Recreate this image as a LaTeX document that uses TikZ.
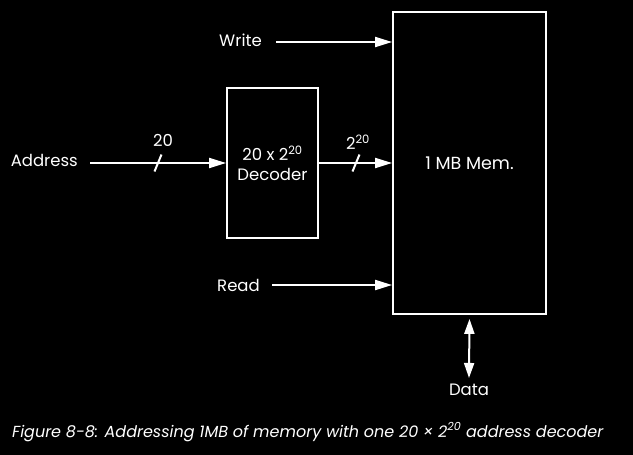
\documentclass[tikz,border=0pt]{standalone}
\usepackage{fontspec}
\setmainfont{Poppins}
\usetikzlibrary{calc}
\usetikzlibrary{arrows.meta}
\tikzstyle{box} = [
    rectangle,
    align=center,
    draw=white,
    line width=1.8pt,
    text=white,
    inner sep=0pt,
]
\tikzstyle{lbl} = [text=white, font=\fontsize{16.5}{18}\selectfont, inner sep=0pt]
\tikzstyle{arrow} = [color=white, line width=2pt, -{Triangle[length=17pt,width=10pt]}]
\tikzstyle{darrow} = [arrow, {Triangle[length=15pt,width=10pt]}-{Triangle[length=15pt,width=10pt]}]
\tikzstyle{bus} = [draw=white, line width=2pt]

\begin{document}
\begin{tikzpicture}[x=1pt, y=-1pt]
    \fill[black] (0,0) rectangle (633,455);
    \useasboundingbox (0,0) rectangle (633,455);

    \node (dec) [box, minimum width=91pt, minimum height=150pt, font=\fontsize{16.5}{20}\selectfont] at (272.5,163) {20 x 2\textsuperscript{20}\\Decoder};
    \node (mem) [box, minimum width=153pt, minimum height=302pt, font=\fontsize{17.5}{18}\selectfont] at (469.5,163) {1 MB Mem.};

    \node (addr) [lbl, anchor=east] at (78,160) {Address};
    \node (wr) [lbl, anchor=east] at (262,40) {Write};
    \node (rd) [lbl, anchor=east] at (260,285) {Read};
    \node (data) [lbl] at (469,390) {Data};
    \node (w20) [lbl] at (163,140) {20};
    \node (w220) [lbl] at (358,142) {2\textsuperscript{20}};

    \coordinate (ain) at ($(addr.east)+(12,3)$);
    \coordinate (win) at ($(wr.east)+(14,2)$);
    \coordinate (rin) at ($(rd.east)+(12,0)$);

    % bus lines
    \path
        (ain) edge [arrow] (dec.west)
        (dec.east) edge [arrow] (mem.west)
        (win) edge [arrow] (win-|mem.west)
        (rin) edge [arrow] (rin-|mem.west);
    \path
        ($(mem.south)+(0,4)$) edge [darrow] ($(data.north)+(0,-6)$);

    % width marks
    \draw [bus] (154.5,171.5) -- (161.5,154.5);
    \draw [bus] (352.5,171.5) -- (359.5,154.5);

    \node (cap) [text=white, font=\itshape\fontsize{16}{18}\selectfont, anchor=west, inner sep=0pt] at (12,432) {Figure 8-8: Addressing 1MB of memory with one 20 × 2\textsuperscript{20} address decoder};
\end{tikzpicture}
\end{document}
